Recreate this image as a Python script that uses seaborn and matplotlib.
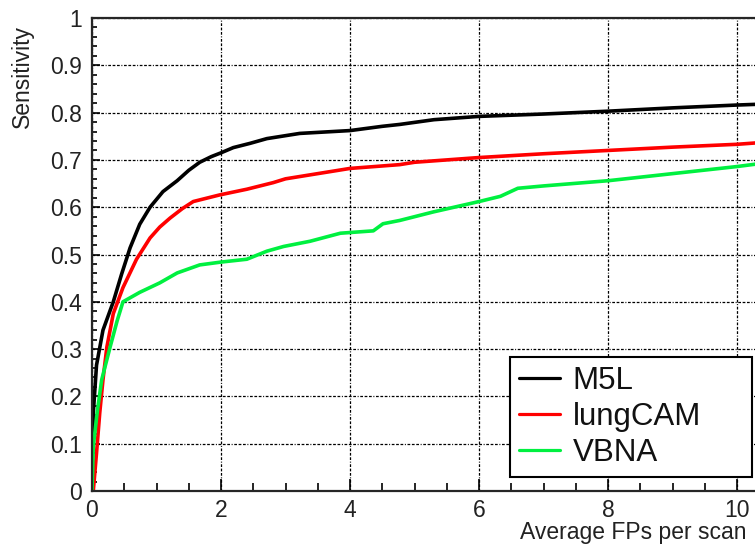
import numpy as np
import pandas as pd
import matplotlib
matplotlib.use("Agg")
import matplotlib.pyplot as plt
from matplotlib.ticker import MultipleLocator
import seaborn as sns

# FROC-Kurven
m5l_x = [0, 0.005, 0.02, 0.07, 0.17, 0.33, 0.46, 0.59, 0.74, 0.9, 1.1, 1.32, 1.5, 1.67, 1.85, 2.0,
         2.19, 2.45, 2.71, 3.22, 4.0, 4.5, 4.77, 5.3, 6.0, 7.0, 8.0, 9.0, 10.0, 10.4]
m5l_y = [0, 0.06, 0.165, 0.266, 0.34, 0.40, 0.459, 0.514, 0.564, 0.60, 0.633, 0.656, 0.678, 0.695, 0.707, 0.715,
         0.726, 0.735, 0.745, 0.756, 0.762, 0.771, 0.775, 0.785, 0.792, 0.797, 0.803, 0.81, 0.816, 0.818]

lungcam_x = [0.02, 0.07, 0.12, 0.17, 0.23, 0.33, 0.48, 0.69, 0.9, 1.05, 1.21, 1.4, 1.57, 1.98, 2.4, 2.81,
             3.0, 4.0, 4.77, 5.0, 6.0, 7.0, 8.0, 9.0, 10.0, 10.4]
lungcam_y = [0, 0.08, 0.165, 0.235, 0.304, 0.375, 0.43, 0.49, 0.535, 0.558, 0.577, 0.597, 0.612, 0.626, 0.638, 0.652,
             0.66, 0.682, 0.69, 0.695, 0.705, 0.713, 0.72, 0.727, 0.733, 0.737]

vbna_x = [0, 0.02, 0.08, 0.15, 0.28, 0.39, 0.48, 0.74, 1.05, 1.32, 1.67, 2.0, 2.4, 2.71, 2.97,
          3.38, 3.85, 4.36, 4.51, 4.77, 5.29, 6.0, 6.33, 6.6, 7.0, 8.0, 9.0, 10.0, 10.4]
vbna_y = [0, 0.094, 0.166, 0.235, 0.304, 0.36, 0.40, 0.42, 0.44, 0.461, 0.478, 0.484, 0.49, 0.507, 0.517,
          0.528, 0.545, 0.55, 0.565, 0.572, 0.59, 0.612, 0.623, 0.64, 0.645, 0.656, 0.671, 0.686, 0.693]

methods = ["M5L", "lungCAM", "VBNA"]
farben = {"M5L": "#000000", "lungCAM": "#ff0000", "VBNA": "#00f040"}

data = pd.concat([
    pd.DataFrame({"fp": m5l_x, "sens": m5l_y, "method": "M5L"}),
    pd.DataFrame({"fp": lungcam_x, "sens": lungcam_y, "method": "lungCAM"}),
    pd.DataFrame({"fp": vbna_x, "sens": vbna_y, "method": "VBNA"}),
], ignore_index=True)

sns.set_style("ticks")
plt.rcParams['font.family'] = ['Liberation Sans', 'DejaVu Sans']

fig = plt.figure(figsize=(7.55, 5.51), dpi=100)
ax = fig.add_axes([92 / 755, 60 / 551, 671 / 755, 473 / 551])

sns.lineplot(data=data, x="fp", y="sens", hue="method", hue_order=methods,
             palette=farben, sort=False, estimator=None, linewidth=2.6, ax=ax)

ax.set_xlim(0, 10.4)
ax.set_ylim(0, 1)
ax.xaxis.set_major_locator(MultipleLocator(2))
ax.xaxis.set_minor_locator(MultipleLocator(0.5))
ax.yaxis.set_major_locator(MultipleLocator(0.1))
ax.yaxis.set_minor_locator(MultipleLocator(0.02))
ax.set_yticks(np.arange(0, 1.01, 0.1))
ax.set_yticklabels(["0", "0.1", "0.2", "0.3", "0.4", "0.5", "0.6", "0.7", "0.8", "0.9", "1"])
ax.set_xticks([0, 2, 4, 6, 8, 10])
ax.set_xticklabels(["0", "2", "4", "6", "8", "10"])

ax.tick_params(axis="both", which="both", direction="in", colors="black", labelsize=16.5, width=1.2,
               labelcolor="#222222")
ax.tick_params(axis="x", which="major", length=9, pad=6)
ax.tick_params(axis="x", which="minor", length=5.5)
ax.tick_params(axis="y", which="major", length=6, pad=7)
ax.tick_params(axis="y", which="minor", length=3.5)

ax.grid(True, which="major", color="black", linewidth=0.9,
        linestyle=(0, (2.2, 1.3, 2.2, 1.3, 2.2, 1.3, 0.8, 1.3)))

for s in ["left", "bottom", "top"]:
    ax.spines[s].set_linewidth(1.6)
ax.spines["right"].set_visible(False)

ax.set_xlabel("Average FPs per scan", fontsize=16.5, loc="right", color="#222222")
ax.xaxis.label.set(ha="right", va="center")
ax.xaxis.set_label_coords((747 - 92) / 671, (491 - 532) / 473)
ax.set_ylabel("Sensitivity", fontsize=16.5, loc="top", color="#222222")
ax.yaxis.label.set(rotation_mode="default", ha="center", va="top")
ax.yaxis.set_label_coords((22 - 92) / 671, (491 - 25) / 473)

leg = ax.legend(loc="lower left", bbox_to_anchor=(0.623, 0.0296, 0.361, 0.241), mode="expand",
                borderaxespad=0, fontsize=22.5, frameon=True, fancybox=False,
                handlelength=1.3, handletextpad=0.4, labelspacing=0.18, borderpad=0.3)
leg.get_frame().set_edgecolor("black")
leg.get_frame().set_linewidth(1.5)
leg.get_frame().set_alpha(1)
for l in leg.get_lines():
    l.set_linewidth(2.3)
for t in leg.get_texts():
    t.set_color("#111111")

fig.savefig("out.png", dpi=100)
